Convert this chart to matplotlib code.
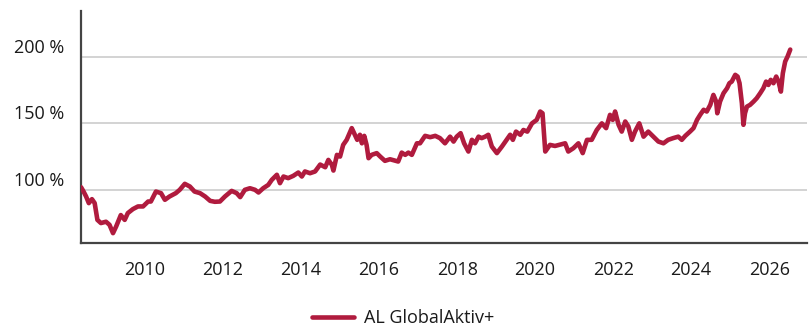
import matplotlib.pyplot as plt
import matplotlib.transforms as mtransforms

plt.rcParams['font.family'] = ['Open Sans', 'DejaVu Sans']

# fund performance, indexed to 100 % at launch (decimal years)
years = [
    2008.36, 2008.42, 2008.49, 2008.56, 2008.64, 2008.71, 2008.78, 2008.87, 2009.00, 2009.09,
    2009.18, 2009.26, 2009.38, 2009.48, 2009.56, 2009.69, 2009.82, 2009.95, 2010.08, 2010.15,
    2010.28, 2010.41, 2010.51, 2010.63, 2010.79, 2010.89, 2011.02, 2011.15, 2011.27, 2011.41,
    2011.54, 2011.67, 2011.79, 2011.92, 2012.05, 2012.22, 2012.35, 2012.44, 2012.56, 2012.69,
    2012.82, 2012.91, 2013.03, 2013.16, 2013.25, 2013.38, 2013.46, 2013.55, 2013.67, 2013.80,
    2013.93, 2014.02, 2014.10, 2014.23, 2014.36, 2014.49, 2014.62, 2014.70, 2014.79, 2014.83,
    2014.92, 2015.00, 2015.08, 2015.17, 2015.30, 2015.38, 2015.44, 2015.51, 2015.56, 2015.62,
    2015.68, 2015.73, 2015.81, 2015.94, 2016.03, 2016.15, 2016.28, 2016.41, 2016.49, 2016.58,
    2016.67, 2016.75, 2016.84, 2016.97, 2017.05, 2017.18, 2017.31, 2017.44, 2017.56, 2017.69,
    2017.82, 2017.91, 2017.99, 2018.09, 2018.18, 2018.29, 2018.38, 2018.46, 2018.55, 2018.63,
    2018.72, 2018.80, 2018.89, 2019.02, 2019.15, 2019.27, 2019.36, 2019.43, 2019.51, 2019.62,
    2019.70, 2019.80, 2019.92, 2020.04, 2020.13, 2020.19, 2020.26, 2020.38, 2020.51, 2020.64,
    2020.77, 2020.85, 2020.98, 2021.11, 2021.22, 2021.33, 2021.45, 2021.58, 2021.71, 2021.82,
    2021.92, 2021.99, 2022.05, 2022.14, 2022.22, 2022.31, 2022.39, 2022.48, 2022.56, 2022.67,
    2022.78, 2022.90, 2023.03, 2023.16, 2023.29, 2023.41, 2023.54, 2023.67, 2023.76, 2023.85,
    2023.97, 2024.06, 2024.15, 2024.23, 2024.32, 2024.40, 2024.49, 2024.57, 2024.64, 2024.67,
    2024.74, 2024.83, 2024.92, 2024.98, 2025.04, 2025.13, 2025.19, 2025.24, 2025.30, 2025.34,
    2025.38, 2025.43, 2025.51, 2025.60, 2025.68, 2025.77, 2025.85, 2025.92, 2025.98, 2026.04,
    2026.11, 2026.18, 2026.24, 2026.30, 2026.35, 2026.41, 2026.47, 2026.54,
]
values = [
    102.0, 99.0, 95.0, 90.0, 93.0, 90.0, 77.4, 75.0, 76.0, 73.7,
    67.4, 72.4, 81.0, 77.4, 82.5, 85.5, 87.5, 87.5, 91.2, 91.2,
    98.7, 97.5, 92.5, 95.0, 97.5, 100.0, 104.5, 102.5, 98.7, 97.5,
    95.0, 91.7, 91.0, 91.2, 95.0, 99.2, 97.5, 94.5, 100.0, 101.2,
    100.0, 98.0, 101.2, 103.7, 107.5, 111.3, 105.0, 110.0, 108.8, 110.5,
    113.0, 110.0, 113.8, 112.5, 113.8, 119.0, 117.0, 122.5, 118.8, 114.5,
    126.3, 125.0, 133.8, 137.6, 146.4, 141.4, 137.6, 141.4, 135.0, 140.6,
    133.8, 123.8, 126.3, 127.6, 125.0, 121.8, 123.0, 122.0, 121.3, 128.0,
    126.3, 128.0, 126.3, 135.0, 135.0, 140.6, 139.6, 140.6, 138.9, 135.0,
    140.0, 136.3, 140.0, 142.6, 135.0, 128.8, 137.6, 135.0, 140.0, 138.9,
    140.0, 141.4, 132.6, 127.6, 132.6, 137.6, 141.4, 137.6, 143.8, 141.4,
    145.0, 143.8, 150.0, 152.6, 158.9, 157.6, 128.8, 133.8, 133.0, 134.0,
    135.0, 128.8, 131.3, 135.0, 127.6, 137.6, 137.6, 145.0, 150.0, 146.4,
    156.4, 152.6, 158.9, 148.9, 143.8, 151.4, 147.6, 137.6, 143.8, 150.0,
    140.0, 143.8, 140.0, 136.3, 135.0, 137.6, 138.9, 140.0, 137.6, 140.6,
    143.8, 146.4, 152.6, 156.4, 160.2, 158.9, 163.9, 171.4, 166.4, 157.6,
    166.4, 172.7, 176.4, 180.2, 181.4, 186.5, 185.2, 180.2, 165.2, 148.9,
    157.6, 162.6, 163.9, 166.4, 168.9, 172.7, 176.4, 181.4, 178.9, 182.7,
    180.2, 185.2, 181.4, 173.9, 187.7, 196.5, 200.2, 205.5,
]
series_name = 'AL GlobalAktiv+'
x_ticks = list(range(2010, 2027, 2))
y_ticks = [100, 150, 200]

line_color = '#b01b3e'
text_color = '#1a1a1a'

fig = plt.figure(figsize=(8.11, 3.26), dpi=100)
ax = fig.add_axes([0.0999, 0.2546, 0.8952, 0.7116])

ax.plot(years, values, color=line_color, lw=3.3, solid_joinstyle='round',
        solid_capstyle='round', label=series_name, zorder=3)

ax.set_xlim(2008.36, 2026.97)
ax.set_ylim(60, 234.5)
ax.set_xticks(x_ticks)
ax.set_xticklabels([str(y) for y in x_ticks])
ax.set_yticks(y_ticks)
ax.set_yticklabels([f'{v} %' for v in y_ticks])

ax.grid(axis='y', color='#cccccc', lw=1.2, zorder=0)
for side in ['top', 'right']:
    ax.spines[side].set_visible(False)
for side in ['left', 'bottom']:
    ax.spines[side].set_color('#444444')
    ax.spines[side].set_linewidth(1.6)

ax.tick_params(axis='both', length=0, labelsize=13, colors=text_color)
ax.tick_params(axis='x', pad=13)
ax.tick_params(axis='y', pad=12)

# lift the y labels so they sit above their grid lines
shift = mtransforms.ScaledTranslation(0, 0.11, fig.dpi_scale_trans)
for lbl in ax.get_yticklabels():
    lbl.set_transform(lbl.get_transform() + shift)

fig.legend(loc='center', bbox_to_anchor=(0.497, 0.024), frameon=False,
           fontsize=13, handlelength=2.3, handletextpad=0.55,
           labelcolor=text_color)

fig.savefig('out.png', dpi=100)
